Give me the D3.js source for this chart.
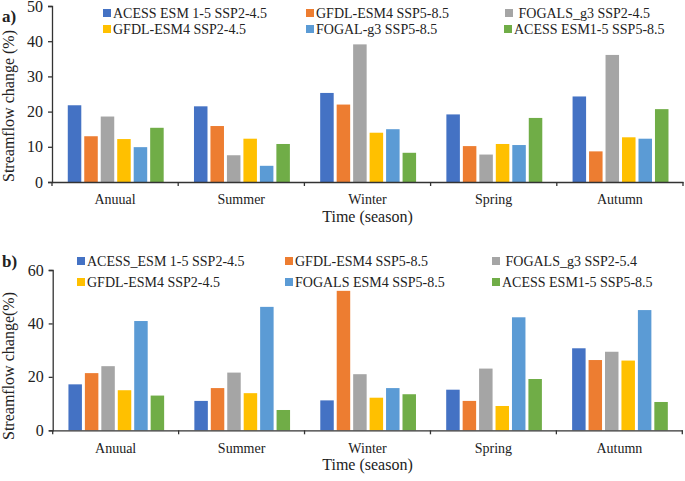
<!DOCTYPE html>
<html><head><meta charset="utf-8">
<script src="https://cdn.jsdelivr.net/npm/d3@7"></script>
<style>
html,body{margin:0;padding:0;background:#fff;}
svg text{font-family:"Liberation Serif","Times New Roman",serif;fill:#222;}
</style></head>
<body><svg id="c" width="685" height="481"></svg>
<script>
const categories = ["Anuual","Summer","Winter","Spring","Autumn"];
const seriesA = ["ACESS ESM 1-5 SSP2-4.5","GFDL-ESM4 SSP5-8.5"," FOGALS_g3 SSP2-4.5","GFDL-ESM4 SSP2-4.5","FOGAL-g3 SSP5-8.5","ACESS ESM1-5 SSP5-8.5"];
const seriesB = ["ACESS_ESM 1-5 SSP2-4.5","GFDL-ESM4 SSP5-8.5"," FOGALS_g3 SSP2-5.4","GFDL-ESM4 SSP2-4.5","FOGALS ESM4 SSP5-8.5","ACESS ESM1-5 SSP5-8.5"];
const colors = ["#4472C4","#ED7D31","#A5A5A5","#FFC000","#5B9BD5","#70AD47"];
// values[series][category]
const valuesA = [
  [21.8, 21.5, 25.3, 19.2, 24.3],
  [13.0, 15.9, 22.0, 10.2, 8.7],
  [18.6, 7.6, 39.1, 7.8, 36.1],
  [12.2, 12.3, 14.0, 10.8, 12.7],
  [9.9, 4.6, 15.0, 10.5, 12.3],
  [15.4, 10.8, 8.3, 18.2, 20.7]
];
const valuesB = [
  [17.2, 11.0, 11.2, 15.2, 30.7],
  [21.4, 15.8, 52.2, 11.0, 26.3],
  [24.0, 21.6, 21.0, 23.1, 29.4],
  [15.0, 13.9, 12.2, 9.1, 26.1],
  [40.9, 46.2, 15.8, 42.3, 45.0],
  [13.0, 7.6, 13.5, 19.2, 10.6]
];
const ticksA = [0,10,20,30,40,50];
const ticksB = [0,20,40,60];

const svg = d3.select("#c");

function panel(o){
  const g = svg.append("g");
  const x0 = d3.scaleBand().domain(categories).range([o.left, o.right]).paddingInner(0).paddingOuter(0);
  const bw = x0.bandwidth();
  const x1 = d3.scaleBand().domain(d3.range(6)).range([0.125*bw, 0.885*bw]).paddingInner(0.18).paddingOuter(0);
  const y = d3.scaleLinear().domain([0, o.max]).range([o.bottom, o.top]);

  // bars
  o.values.forEach((vals, si) => {
    g.selectAll(null).data(vals).enter().append("rect")
      .attr("x", (d,i) => x0(categories[i]) + x1(si))
      .attr("width", x1.bandwidth())
      .attr("y", d => y(d))
      .attr("height", d => y(0) - y(d))
      .attr("fill", colors[si]);
  });

  // y axis
  const ya = g.append("g").attr("transform", `translate(${o.left},0)`)
    .call(d3.axisLeft(y).tickValues(o.ticks).tickSize(4).tickPadding(5));
  ya.selectAll("path,line").attr("stroke","#333").attr("stroke-width",1.3);
  ya.selectAll("text").style("font-size","16px").attr("fill","#222");

  // x axis
  const xa = g.append("g").attr("transform", `translate(0,${o.bottom})`)
    .call(d3.axisBottom(x0).tickSize(0).tickPadding(o.catPad));
  xa.select(".domain").attr("stroke","#333").attr("stroke-width",1.3);
  xa.selectAll("text").style("font-size","14px").attr("fill","#222");
  const bounds = categories.map(c => x0(c)).concat([o.right]);
  g.selectAll(null).data(bounds).enter().append("line")
    .attr("x1", d => d).attr("x2", d => d)
    .attr("y1", o.bottom).attr("y2", o.bottom + 4)
    .attr("stroke","#333").attr("stroke-width",1.3);

  // axis titles
  g.append("text").attr("x", (o.left + o.right)/2).attr("y", o.xTitleY)
    .attr("text-anchor","middle").style("font-size","16px").text("Time (season)");
  g.append("text").attr("transform", `translate(${o.yTitleX},${o.yTitleY}) rotate(-90)`)
    .attr("text-anchor","middle").style("font-size","16px").text(o.yTitle);

  // panel label
  g.append("text").attr("x", 2).attr("y", o.labelY).style("font-size","17px")
    .style("font-weight","bold").text(o.label);

  // legend
  o.series.forEach((s, i) => {
    const col = i % 3, row = Math.floor(i / 3);
    const lx = o.legX[row][col], ly = o.legY[row];
    g.append("rect").attr("x", lx).attr("y", ly - 4).attr("width", 8).attr("height", 8).attr("fill", colors[i]);
    g.append("text").attr("x", lx + 10).attr("y", ly).attr("dy","0.35em")
      .style("font-size","14px").style("white-space","pre").text(s);
  });
}

panel({
  left: 52, right: 683, top: 6, bottom: 182, max: 50, ticks: ticksA, catPad: 12,
  values: valuesA, series: seriesA,
  xTitleY: 222, yTitleX: 14, yTitleY: 106, yTitle: "Streamflow change (%)",
  label: "a)", labelY: 22,
  legX: [[103, 306, 505],[103, 306, 504]], legY: [13, 29]
});
panel({
  left: 52.7, right: 682.3, top: 270, bottom: 430.3, max: 60, ticks: ticksB, catPad: 13,
  values: valuesB, series: seriesB,
  xTitleY: 470, yTitleX: 14, yTitleY: 366, yTitle: "Streamflow change(%)",
  label: "b)", labelY: 267,
  legX: [[77, 285, 492],[77, 285, 492]], legY: [261, 282]
});
</script></body></html>
